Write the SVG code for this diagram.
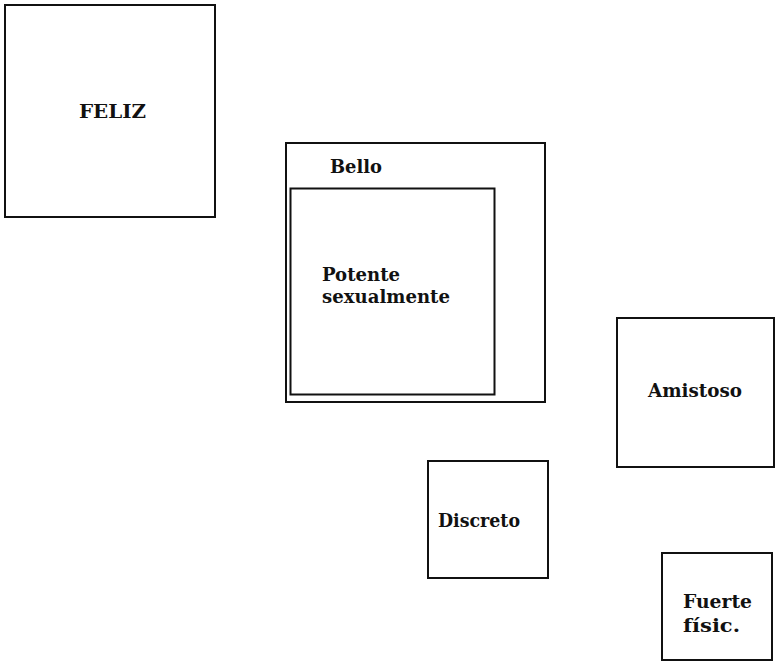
<svg xmlns="http://www.w3.org/2000/svg" width="775" height="664" viewBox="0 0 775 664">
<style>
.box{fill:none;stroke:#111;stroke-width:2}
.lbl{font-family:"DejaVu Serif","Liberation Serif",serif;font-weight:bold;font-size:18px;fill:#111}
</style>
<rect width="775" height="664" fill="#fff"/>
<g id="feliz"><rect class="box" x="5" y="5" width="210" height="212"/><text class="lbl" x="79" y="118" textLength="67" lengthAdjust="spacingAndGlyphs">FELIZ</text></g>
<g id="bello"><rect class="box" x="286" y="143" width="259" height="259"/><text class="lbl" x="330" y="173" textLength="52" lengthAdjust="spacingAndGlyphs">Bello</text></g>
<g id="potente"><rect class="box" x="290.5" y="188.5" width="204" height="206"/><text class="lbl" x="322" y="281" textLength="78" lengthAdjust="spacingAndGlyphs">Potente</text><text class="lbl" x="322" y="303" textLength="128" lengthAdjust="spacingAndGlyphs">sexualmente</text></g>
<g id="amistoso"><rect class="box" x="617" y="318" width="157" height="149"/><text class="lbl" x="648" y="397" textLength="94" lengthAdjust="spacingAndGlyphs">Amistoso</text></g>
<g id="discreto"><rect class="box" x="428" y="461" width="120" height="117"/><text class="lbl" x="438" y="527" textLength="82" lengthAdjust="spacingAndGlyphs">Discreto</text></g>
<g id="fuerte"><rect class="box" x="662" y="553" width="110" height="107"/><text class="lbl" x="683" y="608" textLength="69" lengthAdjust="spacingAndGlyphs">Fuerte</text><text class="lbl" x="683" y="632" textLength="57" lengthAdjust="spacingAndGlyphs">físic.</text></g>
<g id="connectors"></g>
</svg>
